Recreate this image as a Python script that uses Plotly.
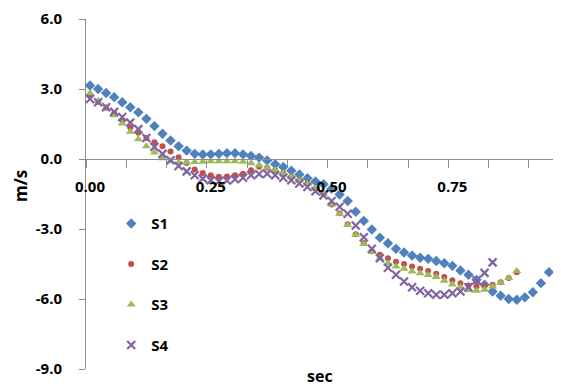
import plotly.graph_objects as go

dt = 1.0 / 60.0

s1 = [3.15, 3.0, 2.83, 2.65, 2.43, 2.22, 2.0, 1.72, 1.41, 1.08,
      0.79, 0.55, 0.36, 0.22, 0.19, 0.2, 0.22, 0.25, 0.25, 0.2,
      0.13, 0.06, -0.06, -0.22, -0.34, -0.5, -0.66, -0.82, -0.96, -1.08,
      -1.28, -1.52, -1.8, -2.26, -2.65, -3.02, -3.37, -3.61, -3.85, -4.01,
      -4.14, -4.23, -4.28, -4.37, -4.47, -4.58, -4.78, -4.96, -5.18, -5.39,
      -5.68, -5.86, -6.0, -6.03, -5.93, -5.71, -5.32, -4.85]

s2 = [2.72, 2.45, 2.2, 1.95, 1.65, 1.35, 1.12, 0.9, 0.72, 0.55,
      0.32, 0.08, -0.17, -0.45, -0.6, -0.7, -0.76, -0.75, -0.7, -0.63,
      -0.48, -0.33, -0.38, -0.48, -0.6, -0.76, -0.9, -1.05, -1.27, -1.48,
      -1.95, -2.33, -2.8, -3.22, -3.6, -3.95, -4.1, -4.25, -4.4, -4.5,
      -4.61, -4.7, -4.8, -4.92, -5.06, -5.2, -5.32, -5.42, -5.46, -5.43,
      -5.39, -5.28, -5.1, -4.85]

s3 = [2.82, 2.5, 2.2, 1.88, 1.52, 1.17, 0.85, 0.55, 0.28, 0.03,
      -0.1, -0.15, -0.15, -0.13, -0.12, -0.1, -0.1, -0.1, -0.1, -0.12,
      -0.18, -0.27, -0.37, -0.48, -0.6, -0.77, -0.92, -1.07, -1.27, -1.5,
      -1.95, -2.35, -2.83, -3.26, -3.64, -3.98, -4.25, -4.47, -4.61, -4.7,
      -4.82, -4.9, -4.97, -5.06, -5.22, -5.38, -5.5, -5.62, -5.65, -5.6,
      -5.46, -5.3, -5.1, -4.8]

s4 = [2.57, 2.43, 2.22, 2.02, 1.8, 1.56, 1.28, 0.9, 0.52, 0.22,
      -0.05, -0.3, -0.53, -0.7, -0.84, -0.91, -0.95, -0.92, -0.87, -0.8,
      -0.7, -0.64, -0.63, -0.7, -0.8, -0.91, -1.05, -1.2, -1.38, -1.56,
      -1.8, -2.05, -2.35, -2.85, -3.35, -3.85, -4.25, -4.66, -4.96, -5.25,
      -5.5, -5.65, -5.75, -5.82, -5.82, -5.75, -5.68, -5.5, -5.2, -4.88,
      -4.43]

names = ["S1", "S2", "S3", "S4"]
colors = ["#4F81BD", "#C0504D", "#9BBB59", "#8064A2"]
x_labels = {0: "0.00", 3: "0.25", 6: "0.50", 9: "0.75"}
y_ticks = [-9, -6, -3, 0, 3, 6]
y_ticktext = ["-9.0", "-6.0", "-3.0", "0.0", "3.0", "6.0"]

FONT = "Open Sans"
AXC = "#8C8C8C"

fig = go.Figure()
series = [s1, s2, s3, s4]
markers = [
    dict(symbol="diamond", size=8),
    dict(symbol="circle", size=6),
    dict(symbol="triangle-up", size=8),
    dict(symbol="x-thin", size=8, line=dict(width=2.2, color=colors[3])),
]
for i, (nm, vals) in enumerate(zip(names, series)):
    xs = [k * dt for k in range(len(vals))]
    m = dict(markers[i])
    m["color"] = colors[i]
    fig.add_trace(go.Scatter(x=xs, y=vals, mode="markers", name=nm,
                             marker=m, legendgroup=nm))

n_cat = 58
xr = [-0.5 * dt, (n_cat - 0.5) * dt]
# tick marks sit on category boundaries every 5 samples; labels every 15
x_tickvals = [(5 * k - 0.5) * dt for k in range(0, 12)]
x_ticktext = [x_labels.get(k, "") for k in range(0, 12)]

fig.update_layout(
    width=561, height=387,
    margin=dict(l=86, r=8, t=17, b=18),
    paper_bgcolor="white", plot_bgcolor="white",
    font=dict(family=FONT, size=15, color="#000000"),
    showlegend=True,
    legend=dict(x=0.054, y=0.462, xanchor="left", yanchor="top",
                bgcolor="rgba(0,0,0,0)", tracegroupgap=18,
                font=dict(family=FONT, size=15, color="#000", weight="bold"),
                itemwidth=30),
    xaxis=dict(range=xr, anchor="free",
               position=0.6, showline=True, linecolor=AXC, linewidth=1,
               showgrid=False, zeroline=False,
               tickmode="array", tickvals=x_tickvals, ticktext=x_ticktext,
               ticks="outside", ticklen=8, tickcolor=AXC, tickwidth=1,
               ticklabelstandoff=6, ticklabelshift=4,
               tickfont=dict(family=FONT, size=15, weight="bold")),
    yaxis=dict(range=[-9, 6], showline=True, linecolor=AXC, linewidth=1,
               showgrid=False, zeroline=False,
               tickmode="array", tickvals=y_ticks, ticktext=y_ticktext,
               ticks="outside", ticklen=6, tickcolor=AXC,
               ticklabelstandoff=14,
               tickfont=dict(family=FONT, size=15, weight="bold")),
    annotations=[
        dict(text="<b>sec</b>", x=(320 - 86) / 467, xref="paper",
             y=0, yref="paper", showarrow=False, xanchor="center",
             yanchor="middle", yshift=-7, font=dict(family=FONT, size=16)),
        dict(text="<b>m/s</b>", textangle=-90, xref="paper", yref="paper",
             x=0, y=(369 - 185) / 352, xshift=-66, showarrow=False,
             xanchor="center", yanchor="middle",
             font=dict(family=FONT, size=17)),
    ],
)

fig.write_html("out.html",
               config={"displayModeBar": False},
               post_script="document.body.style.margin='0';"
                           "document.body.style.overflow='hidden';")
